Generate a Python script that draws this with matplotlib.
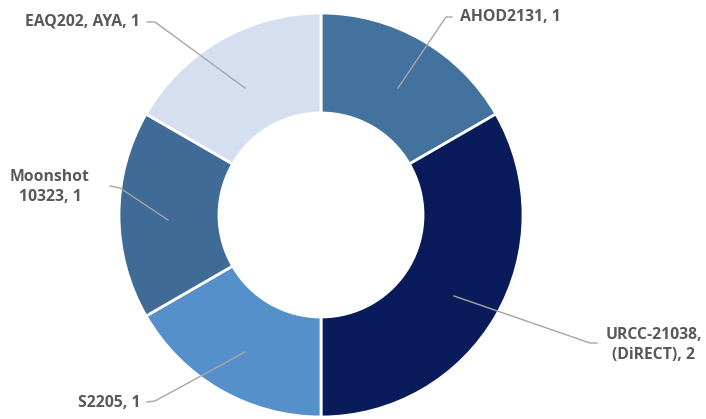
import matplotlib.pyplot as plt

# slices, clockwise from 12 o'clock
names = ["AHOD2131, 1", "URCC-21038,\n(DiRECT), 2", "S2205, 1", "Moonshot\n10323, 1", "EAQ202, AYA, 1"]
values = [1, 2, 1, 1, 1]
colors = ["#44729E", "#0A1B5C", "#5690CA", "#3F6B96", "#D6DFF0"]

W, H = 706, 419
fig = plt.figure(figsize=(W / 100, H / 100), dpi=100)
ax = fig.add_axes([0, 0, 1, 1])

cx, cy, r = 321, H - 215, 202
ax.pie(values, colors=colors, startangle=90, counterclock=False,
       center=(cx, cy), radius=r, frame=True,
       wedgeprops=dict(width=r * 0.495, edgecolor="white", linewidth=2))
ax.set_xlim(0, W)
ax.set_ylim(0, H)
ax.set_aspect("equal")
ax.axis("off")

# label text position, alignment, leader line points (image coords)
label_pos = [
    (460, 17, "left", [(452, 17), (446, 17), (398, 88)]),
    (654, 345, "center", [(597, 343), (590, 343), (454, 296)]),
    (141, 403, "right", [(147, 402), (155, 401), (245, 352)]),
    (50, 187, "center", [(110, 186), (120, 188), (168, 220)]),
    (140, 21, "right", [(147, 22), (155, 22), (245, 88)]),
]

for name, (tx, ty, ha, pts) in zip(names, label_pos):
    ax.text(tx, H - ty, name, ha=ha, va="center", fontsize=11.3,
            fontweight="bold", color="#595959", family="Open Sans",
            linespacing=1.4)
    xs = [p[0] for p in pts]
    ys = [H - p[1] for p in pts]
    ax.plot(xs, ys, color="#A6A6A6", linewidth=1)

fig.savefig("out.png", dpi=100)
